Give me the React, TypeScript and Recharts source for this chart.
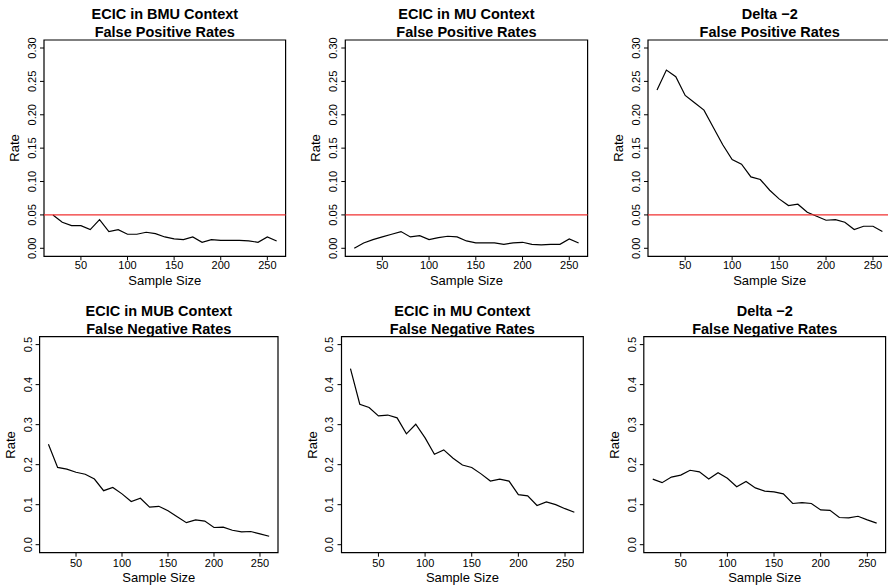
import { Line, LineChart, ReferenceArea, ReferenceLine, XAxis, YAxis } from "recharts";

const sampleSizes = [20, 30, 40, 50, 60, 70, 80, 90, 100, 110, 120, 130, 140, 150, 160, 170, 180, 190, 200, 210, 220, 230, 240, 250, 260];
const xTicks = [50, 100, 150, 200, 250];
const fpTicks = [0, 0.05, 0.1, 0.15, 0.2, 0.25, 0.3];
const fnTicks = [0, 0.1, 0.2, 0.3, 0.4, 0.5];

const fpBmu = [0.05, 0.039, 0.034, 0.034, 0.028, 0.043, 0.025, 0.028, 0.021, 0.021, 0.024, 0.022, 0.017, 0.014, 0.013, 0.017, 0.009, 0.013, 0.012, 0.012, 0.012, 0.011, 0.009, 0.017, 0.011];
const fpMu = [0.0, 0.008, 0.013, 0.017, 0.021, 0.025, 0.017, 0.019, 0.013, 0.016, 0.018, 0.017, 0.011, 0.008, 0.008, 0.008, 0.006, 0.008, 0.009, 0.006, 0.005, 0.006, 0.006, 0.014, 0.008];
const fpDelta = [0.237, 0.267, 0.257, 0.229, 0.218, 0.207, 0.181, 0.155, 0.133, 0.126, 0.107, 0.103, 0.087, 0.074, 0.064, 0.066, 0.054, 0.048, 0.042, 0.043, 0.039, 0.028, 0.033, 0.033, 0.025];
const fnMub = [0.251, 0.193, 0.189, 0.181, 0.176, 0.164, 0.135, 0.143, 0.127, 0.108, 0.116, 0.094, 0.096, 0.085, 0.07, 0.055, 0.062, 0.059, 0.043, 0.044, 0.036, 0.032, 0.033, 0.027, 0.021];
const fnMu = [0.44, 0.351, 0.343, 0.322, 0.324, 0.317, 0.277, 0.301, 0.267, 0.226, 0.237, 0.216, 0.199, 0.193, 0.177, 0.159, 0.164, 0.159, 0.125, 0.122, 0.098, 0.107, 0.1, 0.09, 0.081];
const fnDelta = [0.164, 0.155, 0.169, 0.174, 0.186, 0.182, 0.164, 0.18, 0.166, 0.145, 0.158, 0.142, 0.134, 0.132, 0.127, 0.103, 0.105, 0.103, 0.087, 0.086, 0.068, 0.067, 0.071, 0.062, 0.054];

const FONT = '"Liberation Sans", Arial, Helvetica, sans-serif';
const xDomain: [number, number] = [10.4, 269.6];
const AXIS_W = 20;

type PanelDef = {
  title1: string;
  title2: string;
  values: number[];
  yTicks: number[];
  digits: number;
  refLine: boolean;
  box: { l: number; r: number; t: number; b: number };
  cell: { x: number; y: number; w: number; h: number };
  tickDy: number;
};

const panels: PanelDef[] = [
  { title1: "ECIC in BMU Context", title2: "False Positive Rates", values: fpBmu, yTicks: fpTicks, digits: 2, refLine: true, box: { l: 44, r: 285.6, t: 40, b: 256.3 }, cell: { x: 0, y: 0, w: 296, h: 290 }, tickDy: 9 },
  { title1: "ECIC in MU Context", title2: "False Positive Rates", values: fpMu, yTicks: fpTicks, digits: 2, refLine: true, box: { l: 345.3, r: 587.6, t: 40, b: 256.3 }, cell: { x: 296, y: 0, w: 296, h: 290 }, tickDy: 9 },
  { title1: "Delta \u22122", title2: "False Positive Rates", values: fpDelta, yTicks: fpTicks, digits: 2, refLine: true, box: { l: 648, r: 891.4, t: 40, b: 256.3 }, cell: { x: 592, y: 0, w: 300, h: 290 }, tickDy: 9 },
  { title1: "ECIC in MUB Context", title2: "False Negative Rates", values: fnMub, yTicks: fnTicks, digits: 1, refLine: false, box: { l: 39.6, r: 278, t: 336.6, b: 552.7 }, cell: { x: 0, y: 290, w: 296, h: 297 }, tickDy: 10.5 },
  { title1: "ECIC in MU Context", title2: "False Negative Rates", values: fnMu, yTicks: fnTicks, digits: 1, refLine: false, box: { l: 341.5, r: 583.3, t: 336.6, b: 552.7 }, cell: { x: 296, y: 290, w: 296, h: 297 }, tickDy: 10.5 },
  { title1: "Delta \u22122", title2: "False Negative Rates", values: fnDelta, yTicks: fnTicks, digits: 1, refLine: false, box: { l: 643.8, r: 885.6, t: 336.6, b: 552.7 }, cell: { x: 592, y: 290, w: 296, h: 297 }, tickDy: 10.5 },
];

function Panel({ p }: { p: PanelDef }) {
  const data = sampleSizes.map((n, i) => ({ n, rate: p.values[i] }));
  const { l, r, t, b } = p.box;
  const { x, y, w, h } = p.cell;
  const top = p.yTicks[p.yTicks.length - 1];
  const pad = top * 0.04;
  const yDomain: [number, number] = [-pad, top + pad];
  const margin = { left: l - x - AXIS_W, right: x + w - r, top: t - y, bottom: y + h - b - AXIS_W };
  const cx = (l + r) / 2;
  const cy = (t + b) / 2;

  return (
    <>
      <div style={{ position: "absolute", left: x, top: y }}>
        <LineChart width={w} height={h} data={data} margin={margin}>
          <XAxis
            dataKey="n"
            type="number"
            domain={xDomain}
            ticks={xTicks}
            interval={0}
            allowDataOverflow
            height={AXIS_W}
            axisLine={false}
            tickSize={4}
            tickMargin={0}
            tickLine={{ stroke: "#000" }}
            tick={(props: any) => (
              <text x={props.x} y={b - y + p.tickDy} textAnchor="middle" dominantBaseline="central" fontFamily={FONT} fontSize={11} fill="#000">
                {props.payload.value}
              </text>
            )}
          />
          <YAxis
            type="number"
            domain={yDomain}
            ticks={p.yTicks}
            interval={0}
            allowDataOverflow
            width={AXIS_W}
            axisLine={false}
            tickSize={4}
            tickMargin={0}
            tickLine={{ stroke: "#000" }}
            tick={(props: any) => {
              const tx = l - x - 12;
              return (
                <text x={tx} y={props.y} transform={`rotate(-90 ${tx} ${props.y})`} textAnchor="middle" dominantBaseline="central" fontFamily={FONT} fontSize={11} fill="#000">
                  {Number(props.payload.value).toFixed(p.digits)}
                </text>
              );
            }}
          />
          <ReferenceArea x1={xDomain[0]} x2={xDomain[1]} y1={yDomain[0]} y2={yDomain[1]} fill="none" fillOpacity={0} stroke="#000" strokeWidth={1.2} />
          <Line dataKey="rate" type="linear" stroke="#000" strokeWidth={1.2} dot={false} isAnimationActive={false} />
          {p.refLine && <ReferenceLine y={0.05} stroke="#f03030" strokeWidth={1.4} />}
        </LineChart>
      </div>
      <div style={{ position: "absolute", left: cx - 150, width: 300, top: t - 35, textAlign: "center", fontFamily: FONT, fontWeight: "bold", fontSize: 14.5, lineHeight: "18px", color: "#000" }}>
        {p.title1}
        <br />
        {p.title2}
      </div>
      <div style={{ position: "absolute", left: cx - 60, width: 120, top: b + 17, height: 16, lineHeight: "16px", textAlign: "center", fontFamily: FONT, fontSize: 13, color: "#000" }}>
        Sample Size
      </div>
      <div style={{ position: "absolute", left: l - 29 - 50, width: 100, top: cy - 8, height: 16, lineHeight: "16px", textAlign: "center", fontFamily: FONT, fontSize: 13, color: "#000", transform: "rotate(-90deg)" }}>
        Rate
      </div>
    </>
  );
}

export default function App() {
  return (
    <div style={{ position: "absolute", left: 0, top: 0, width: 888, height: 587, overflow: "hidden", background: "#fff" }}>
      {panels.map((p, i) => (
        <Panel key={i} p={p} />
      ))}
    </div>
  );
}
